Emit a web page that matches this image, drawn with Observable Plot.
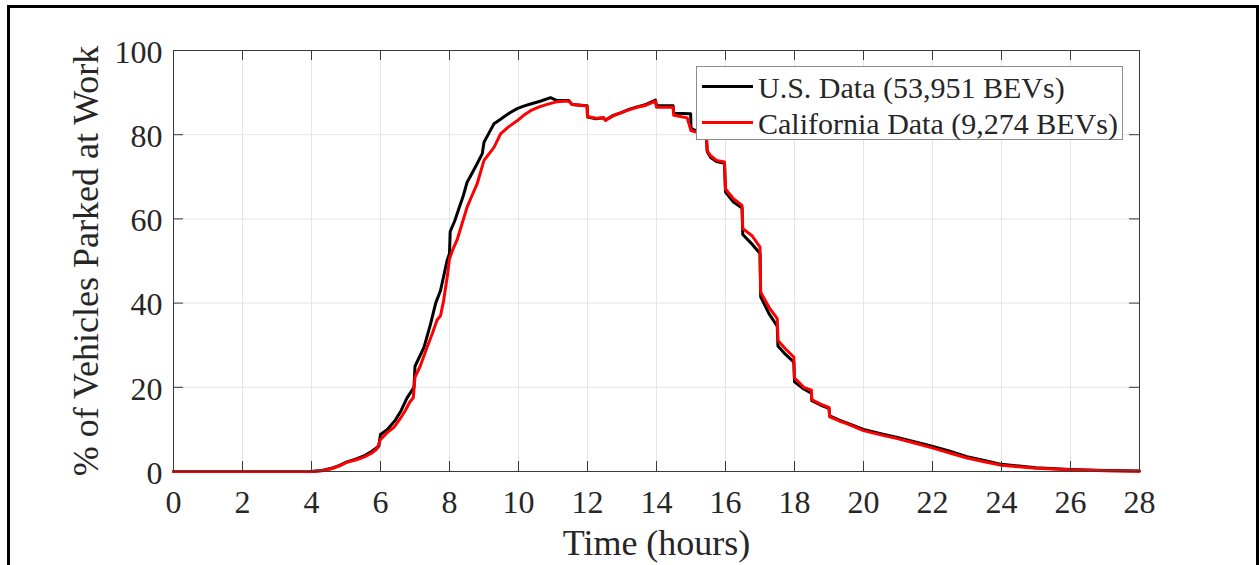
<!DOCTYPE html>
<html>
<head>
<meta charset="utf-8">
<script src="https://cdn.jsdelivr.net/npm/d3@7"></script>
<script src="https://cdn.jsdelivr.net/npm/@observablehq/plot@0.6"></script>
<style>
  body { margin: 0; background: #fff; }
  #fig { position: relative; width: 1259px; height: 565px; overflow: hidden;
         font-family: "Liberation Serif", "Times New Roman", serif; color: #262626; }
  #border { position: absolute; left: 7px; top: 5px; width: 1252px; height: 700px;
            border: 3px solid #000; box-sizing: border-box; pointer-events: none; }
  #legend { position: absolute; left: 696px; top: 66px; width: 427px; height: 74px;
            background: #fff; border: 1.5px solid #8c8c8c; box-sizing: border-box; }
  #legend .sw { position: absolute; left: 5px; width: 51px; height: 3px; }
  #legend .lab { position: absolute; left: 61px; font-size: 30px; line-height: 30px; white-space: nowrap; }
</style>
</head>
<body>
<div id="fig">
  <div id="chart"></div>
  <div id="legend"></div>
  <div id="border"></div>
</div>
<script>
// Share of vehicles parked at work by time of day (hours after midnight).
const usHours = [0, 4.0, 4.3, 4.55, 4.8, 5.03, 5.3, 5.52, 5.75, 5.95, 6.0, 6.2, 6.43, 6.6, 6.77, 6.97, 7.0, 7.26, 7.45, 7.6, 7.74, 7.93, 8.0, 8.02, 8.15, 8.27, 8.4, 8.51, 8.65, 8.8, 8.95, 9.0, 9.15, 9.29, 9.45, 9.57, 9.75, 9.96, 10.15, 10.35, 10.65, 10.93, 11.12, 11.46, 11.55, 11.99, 12.0, 12.25, 12.47, 12.52, 12.75, 12.96, 13.2, 13.44, 13.7, 13.97, 14.0, 14.48, 14.5, 14.99, 15.0, 15.3, 15.45, 15.47, 15.57, 15.74, 15.97, 16.0, 16.23, 16.48, 16.5, 16.77, 17.0, 17.02, 17.26, 17.5, 17.52, 17.74, 17.98, 18.0, 18.27, 18.49, 18.5, 18.75, 19.0, 19.02, 19.3, 19.53, 20.0, 20.5, 20.98, 21.5, 21.99, 22.5, 23.0, 23.5, 24.0, 24.5, 25.0, 26.0, 27.0, 28.0];
const usPct = [0, 0, 0.25, 0.7, 1.4, 2.3, 3.0, 3.7, 4.8, 6.0, 8.8, 10.0, 12.2, 14.5, 17.5, 20.0, 25.0, 29.5, 35.0, 40.0, 43.0, 50.1, 51.8, 57.0, 59.5, 62.4, 65.5, 68.7, 70.8, 73.1, 75.5, 78.2, 80.5, 82.6, 83.5, 84.2, 85.2, 86.2, 86.8, 87.3, 88.0, 88.8, 88.1, 88.1, 87.2, 86.9, 84.2, 83.8, 84.0, 83.5, 84.6, 85.2, 86.0, 86.6, 87.2, 88.2, 86.9, 86.9, 85.1, 85.0, 81.5, 80.3, 79.0, 76.0, 74.6, 73.6, 73.2, 66.4, 64.0, 62.6, 56.3, 54.0, 51.8, 41.5, 37.5, 34.5, 29.8, 27.8, 26.0, 21.3, 19.6, 18.6, 16.8, 15.8, 15.0, 13.2, 12.2, 11.5, 10.0, 9.0, 8.1, 7.0, 6.0, 4.8, 3.5, 2.6, 1.7, 1.3, 0.9, 0.5, 0.25, 0.1];

const caHours = [0, 4.0, 4.3, 4.55, 4.8, 5.03, 5.3, 5.52, 5.75, 5.9, 6.0, 6.2, 6.39, 6.55, 6.72, 6.85, 6.95, 7.0, 7.15, 7.35, 7.5, 7.64, 7.74, 7.83, 7.93, 8.0, 8.1, 8.22, 8.35, 8.51, 8.65, 8.8, 9.0, 9.15, 9.29, 9.48, 9.7, 9.96, 10.15, 10.35, 10.6, 10.83, 11.1, 11.45, 11.55, 11.99, 12.0, 12.25, 12.47, 12.52, 12.75, 12.96, 13.2, 13.44, 13.7, 13.97, 14.0, 14.48, 14.5, 14.89, 15.0, 15.3, 15.45, 15.47, 15.57, 15.74, 15.97, 16.0, 16.23, 16.48, 16.5, 16.77, 17.0, 17.02, 17.26, 17.5, 17.52, 17.74, 17.98, 18.0, 18.27, 18.49, 18.5, 18.75, 19.0, 19.02, 19.3, 19.53, 20.0, 20.5, 20.98, 21.5, 21.99, 22.5, 23.0, 23.5, 24.0, 24.5, 25.0, 26.0, 27.0, 28.0];
const caPct = [0, 0, 0.2, 0.6, 1.3, 2.2, 2.8, 3.4, 4.4, 5.4, 7.6, 9.3, 10.5, 12.3, 14.5, 16.5, 17.5, 22.4, 25.0, 29.5, 32.7, 36.0, 37.0, 40.6, 46.0, 50.5, 52.8, 55.0, 58.5, 62.8, 65.5, 68.3, 73.9, 75.5, 77.0, 80.2, 81.8, 83.3, 84.6, 85.7, 86.6, 87.2, 87.8, 88.0, 87.2, 86.8, 84.3, 83.9, 84.0, 83.4, 84.5, 85.2, 85.9, 86.5, 87.0, 88.0, 86.5, 86.5, 84.6, 84.0, 81.0, 80.3, 79.0, 76.2, 75.0, 73.9, 73.5, 67.1, 64.8, 63.2, 57.7, 56.0, 53.3, 42.6, 39.0, 36.3, 31.1, 29.1, 27.2, 22.2, 20.0, 19.3, 17.1, 16.0, 15.2, 13.0, 12.0, 11.3, 9.7, 8.7, 7.8, 6.7, 5.6, 4.4, 3.2, 2.3, 1.5, 1.1, 0.8, 0.4, 0.2, 0.05];

const xTicks = [0, 2, 4, 6, 8, 10, 12, 14, 16, 18, 20, 22, 24, 26, 28];
const yTicks = [0, 20, 40, 60, 80, 100];

const seriesNames = ["U.S. Data (53,951 BEVs)", "California Data (9,274 BEVs)"];
const seriesColors = ["#000000", "#ff0000"];

const us = usHours.map((h, i) => ({h, v: usPct[i]}));
const ca = caHours.map((h, i) => ({h, v: caPct[i]}));

const axisColor = "#3a3a3a";
const gridColor = "#e4e4e4";

const chart = Plot.plot({
  width: 1259,
  height: 565,
  marginLeft: 173,
  marginRight: 120,
  marginTop: 50,
  marginBottom: 94,
  x: {domain: [0, 28], label: null},
  y: {domain: [0, 100], label: null},
  style: {fontFamily: "'Liberation Serif', 'Times New Roman', serif", background: "#fff", color: "#262626"},
  marks: [
    Plot.gridX(xTicks, {stroke: gridColor, strokeOpacity: 1}),
    Plot.gridY(yTicks, {stroke: gridColor, strokeOpacity: 1}),
    Plot.line(us, {x: "h", y: "v", stroke: seriesColors[0], strokeWidth: 3}),
    Plot.line(ca, {x: "h", y: "v", stroke: seriesColors[1], strokeWidth: 3}),
    Plot.frame({stroke: axisColor, strokeWidth: 1}),
    // inward tick marks on all four sides
    Plot.ruleX(xTicks, {x: d => d, insetTop: 411, stroke: axisColor}),
    Plot.ruleX(xTicks, {x: d => d, insetBottom: 411, stroke: axisColor}),
    Plot.ruleY(yTicks, {y: d => d, insetRight: 956, stroke: axisColor}),
    Plot.ruleY(yTicks, {y: d => d, insetLeft: 956, stroke: axisColor}),
    Plot.axisX(xTicks, {tickSize: 0, tickPadding: 19, fontSize: 32, label: null}),
    Plot.axisY(yTicks, {tickSize: 0, tickPadding: 11, fontSize: 32, dy: 2, label: null}),
    Plot.text(["Time (hours)"], {frameAnchor: "bottom", dy: 71.5, fontSize: 36, lineAnchor: "middle", textAnchor: "middle", fill: "#262626"}),
    Plot.text(["% of Vehicles Parked at Work"], {frameAnchor: "left", rotate: -90, dx: -87.5, fontSize: 36, lineAnchor: "middle", textAnchor: "middle", fill: "#262626"})
  ]
});
document.getElementById("chart").append(chart);

// legend box inside the plot area
const legend = document.getElementById("legend");
const rowTops = [6, 41.5];
const swatchTops = [17.5, 54];
seriesNames.forEach((name, i) => {
  const sw = document.createElement("div");
  sw.className = "sw";
  sw.style.top = swatchTops[i] + "px";
  sw.style.background = seriesColors[i];
  legend.append(sw);
  const lab = document.createElement("div");
  lab.className = "lab";
  lab.style.top = rowTops[i] + "px";
  lab.textContent = name;
  legend.append(lab);
});
</script>
</body>
</html>
